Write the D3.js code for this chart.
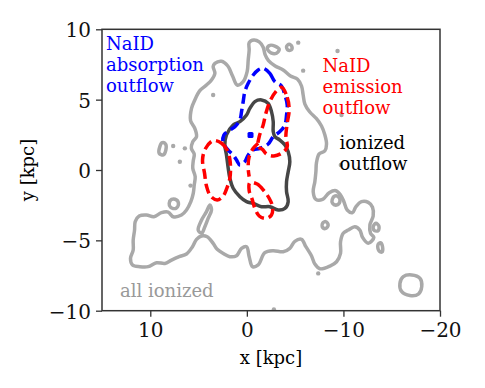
<!DOCTYPE html>
<html>
<head>
<meta charset="utf-8">
<script src="https://cdn.jsdelivr.net/npm/d3@7"></script>
<style>
  body { margin: 0; background: #fff; }
  svg { display: block; }
</style>
</head>
<body>
<script>
  var w = 485
  var h = 388
  var plotL = 102, plotR = 440, plotT = 29.3, plotB = 310.7 // plot frame in px

  // axis ticks
  var xTicks = [10, 0, -10, -20]
  var yTicks = [10, 5, 0, -5, -10]

  // contours, [x kpc, y kpc]
  var allIonized = [[3.31,7.58],[2.62,7.73],[1.97,7.39],[1.48,6.68],[1.00,6.04],[0.38,6.28],[-0.03,6.99],[-0.14,7.82],[-0.24,8.53],[-0.24,9.05],[-0.72,9.24],[-1.28,9.10],[-1.69,8.72],[-1.90,8.18],[-2.24,7.77],[-2.93,7.39],[-3.76,7.11],[-4.52,6.68],[-5.25,6.45],[-5.66,5.97],[-5.83,5.33],[-6.01,4.69],[-6.52,4.12],[-7.21,3.65],[-7.73,3.13],[-8.08,2.49],[-8.25,1.85],[-8.08,1.37],[-7.49,1.14],[-7.21,0.52],[-7.15,-0.12],[-7.04,-0.83],[-6.87,-1.54],[-7.15,-2.09],[-7.84,-2.09],[-8.53,-1.61],[-9.22,-1.47],[-9.70,-1.78],[-10.05,-2.25],[-10.39,-2.84],[-10.94,-3.03],[-11.29,-2.61],[-11.87,-2.25],[-12.57,-2.30],[-13.01,-2.65],[-13.08,-3.27],[-12.74,-3.91],[-12.81,-4.50],[-13.15,-4.79],[-12.57,-5.21],[-11.98,-4.79],[-11.70,-4.27],[-11.18,-4.03],[-10.49,-4.27],[-9.98,-4.50],[-9.70,-5.10],[-9.70,-5.93],[-9.29,-6.52],[-8.60,-6.83],[-7.56,-7.02],[-7.04,-6.68],[-6.70,-6.11],[-6.11,-5.45],[-5.66,-4.93],[-4.97,-5.07],[-4.45,-5.57],[-3.76,-5.81],[-2.73,-5.74],[-1.86,-5.88],[-1.17,-6.75],[-0.59,-6.87],[-0.24,-6.16],[0.03,-5.45],[0.55,-5.57],[1.07,-6.09],[1.76,-6.16],[2.45,-5.93],[3.07,-5.64],[3.49,-5.21],[4.11,-4.74],[4.69,-4.69],[5.21,-4.93],[5.63,-5.45],[6.25,-5.97],[7.01,-6.16],[7.80,-6.40],[8.49,-6.64],[9.35,-6.59],[10.22,-6.87],[11.08,-6.87],[11.84,-6.75],[12.05,-6.28],[11.77,-5.69],[11.77,-4.98],[11.63,-4.27],[11.56,-3.67],[11.15,-3.27],[10.39,-3.20],[9.63,-3.32],[8.84,-3.03],[8.15,-2.99],[7.63,-3.32],[6.77,-3.20],[6.25,-2.84],[5.80,-2.25],[5.55,-1.66],[5.45,-1.07],[5.35,-0.47],[5.60,0.12],[5.55,0.66],[5.45,1.14],[5.75,1.54],[5.60,2.01],[5.21,2.37],[5.39,2.96],[5.83,3.51],[5.73,4.38],[5.39,4.98],[4.87,5.64],[4.18,6.04],[3.66,6.40],[3.31,6.87],[3.49,7.35]]

  var ionizedBits = [
    [[-2.11,8.64],[-2.38,8.86],[-2.90,8.81],[-3.35,8.58],[-3.07,8.30],[-2.55,8.30]],
    [[-4.11,8.77],[-4.38,8.93],[-4.66,8.77],[-4.59,8.53],[-4.25,8.53]],
    [[9.01,1.66],[8.77,1.94],[8.42,1.85],[8.39,1.42],[8.66,1.07],[9.08,1.19]],
    [[8.04,-2.37],[7.80,-2.09],[7.28,-2.13],[7.08,-2.42],[7.35,-2.73],[7.90,-2.65]],
    [[3.83,-2.49],[4.18,-2.96],[4.69,-3.56],[5.04,-4.27],[4.69,-4.50],[4.35,-4.03],[4.01,-3.44],[3.66,-2.84]],
    [[-8.84,-2.09],[-9.11,-1.85],[-9.53,-1.94],[-9.63,-2.25],[-9.29,-2.49],[-8.87,-2.37]],
    [[-13.08,-4.03],[-13.36,-3.79],[-13.67,-3.98],[-13.60,-4.31],[-13.22,-4.31]],
    [[-13.57,-5.33],[-13.84,-5.17],[-14.05,-5.45],[-13.98,-5.83],[-13.67,-5.74]],
    [[-7.84,-3.79],[-8.18,-3.67],[-8.42,-3.91],[-8.18,-4.15],[-7.84,-4.08]],
    [[-15.85,-8.06],[-16.20,-7.58],[-17.07,-7.46],[-17.93,-7.70],[-18.11,-8.29],[-17.76,-8.82],[-16.88,-8.92],[-16.02,-8.63]]
  ]

  var ionizedDots = [[-5.32,9.05],[-5.83,7.06],[-9.39,8.46],[3.49,5.33],[-9.80,3.91],[-9.73,0.36],[7.63,1.71],[6.42,1.54],[6.94,0.59],[5.83,-1.11],[-7.39,-7.35],[-2.80,-9.91]]

  var ionizedOutflow = [[-1.52,4.98],[-2.21,4.74],[-2.55,4.15],[-2.73,3.44],[-2.73,2.73],[-2.90,2.37],[-3.42,2.13],[-3.94,1.78],[-4.28,1.30],[-4.45,0.59],[-4.28,-0.12],[-4.11,-0.83],[-4.11,-1.54],[-4.28,-2.25],[-3.94,-2.73],[-3.24,-2.84],[-2.38,-2.61],[-1.52,-2.61],[-0.66,-2.37],[0.03,-2.25],[0.72,-1.90],[1.42,-1.30],[1.76,-0.59],[1.93,0.12],[2.11,1.07],[2.28,1.78],[2.11,2.49],[1.42,3.20],[0.72,3.44],[0.03,3.91],[-0.31,4.38],[-0.83,4.86]]

  var absorption = [[-1.69,7.23],[-2.38,6.87],[-2.90,6.28],[-3.59,5.97],[-3.94,5.33],[-4.18,4.62],[-4.11,3.91],[-3.94,3.20],[-3.42,2.73],[-2.73,2.37],[-2.21,1.85],[-1.35,1.54],[-0.66,1.42],[-0.14,1.07],[0.21,0.59],[0.72,0.36],[1.07,0.71],[1.42,1.07],[1.93,1.42],[2.45,1.90],[2.38,2.49],[1.76,2.84],[1.24,3.08],[0.72,3.56],[0.55,4.15],[0.38,4.86],[0.21,5.57],[-0.14,6.16],[-0.66,6.75],[-1.17,7.11]]
  var absorptionDot = [-0.38, 2.49]

  var emission = [
    [[3.49,2.09],[2.62,1.90],[2.04,1.42],[1.76,0.76],[1.69,0.05],[1.76,-0.59],[2.04,-1.23],[2.45,-1.85],[3.07,-2.13],[3.76,-1.85],[4.18,-1.14],[4.38,-0.24],[4.59,0.71],[4.31,1.49]],
    [[-3.59,5.88],[-4.18,5.17],[-4.38,4.27],[-4.18,3.32],[-4.04,2.37],[-4.18,1.66],[-3.69,1.23],[-2.80,1.00],[-2.04,1.14],[-1.62,1.47],[-1.17,1.66],[-1.28,2.37],[-1.69,3.20],[-1.97,4.03],[-2.38,4.86],[-3.00,5.57]],
    [[-0.31,-0.90],[-1.07,-1.00],[-1.76,-1.47],[-2.31,-2.01],[-2.66,-2.61],[-2.55,-3.20],[-1.97,-3.44],[-1.28,-3.27],[-0.83,-2.73],[-0.55,-2.09],[-0.24,-1.47]]
  ]
  var emissionStem = [[-1.17,1.90],[-0.66,1.54],[-0.24,0.95],[-0.14,0.12],[-0.24,-0.47]]

  //SCALES

  var x = d3.scaleLinear().domain([15, -20]).range([plotL, plotR])
  var y = d3.scaleLinear().domain([-10, 10]).range([plotB, plotT])

  var svg = d3.select("body")
      .append("svg")
      .attr("width", w)
      .attr("height", h)

  svg.append("clipPath").attr("id", "plot")
      .append("rect")
      .attr("x", plotL).attr("y", plotT)
      .attr("width", plotR - plotL).attr("height", plotB - plotT)

  var g = svg.append("g").attr("clip-path", "url(#plot)")

  var loopLine = d3.line()
      .x(function (d) { return x(d[0]) })
      .y(function (d) { return y(d[1]) })
      .curve(d3.curveCatmullRomClosed.alpha(0.5))

  var openLine = d3.line()
      .x(function (d) { return x(d[0]) })
      .y(function (d) { return y(d[1]) })
      .curve(d3.curveCatmullRom.alpha(0.5))

  var grey = "#a9a9a9"

  //ALL IONIZED

  g.append("path").datum(allIonized)
      .attr("d", loopLine)
      .attr("fill", "none").attr("stroke", grey).attr("stroke-width", 3.5)
      .attr("stroke-linejoin", "round")

  g.selectAll(".bit")
      .data(ionizedBits)
      .enter()
      .append("path")
      .attr("class", "bit")
      .attr("d", loopLine)
      .attr("fill", "none").attr("stroke", grey).attr("stroke-width", 3.5)

  g.selectAll(".dot")
      .data(ionizedDots)
      .enter()
      .append("circle")
      .attr("class", "dot")
      .attr("cx", function (d) { return x(d[0]) })
      .attr("cy", function (d) { return y(d[1]) })
      .attr("r", 2.2)
      .attr("fill", grey)

  //IONIZED OUTFLOW

  g.append("path").datum(ionizedOutflow)
      .attr("d", loopLine)
      .attr("fill", "none").attr("stroke", "#464646").attr("stroke-width", 3.5)

  //NaID ABSORPTION

  g.append("path").datum(absorption)
      .attr("d", loopLine)
      .attr("fill", "none").attr("stroke", "blue").attr("stroke-width", 3.5)
      .attr("stroke-dasharray", "10,5")

  g.append("rect")
      .attr("x", x(absorptionDot[0]) - 3).attr("y", y(absorptionDot[1]) - 3)
      .attr("width", 6).attr("height", 6)
      .attr("rx", 1.5)
      .attr("fill", "blue")

  //NaID EMISSION

  g.selectAll(".em")
      .data(emission)
      .enter()
      .append("path")
      .attr("class", "em")
      .attr("d", loopLine)
      .attr("fill", "none").attr("stroke", "red").attr("stroke-width", 3.5)
      .attr("stroke-dasharray", "10,5")

  g.append("path").datum(emissionStem)
      .attr("d", openLine)
      .attr("fill", "none").attr("stroke", "red").attr("stroke-width", 3.5)
      .attr("stroke-dasharray", "10,5")

  //FRAME AND AXES

  svg.append("rect")
      .attr("x", plotL).attr("y", plotT)
      .attr("width", plotR - plotL).attr("height", plotB - plotT)
      .attr("fill", "none").attr("stroke", "#333").attr("stroke-width", 1.5)

  var fmt = function (d) { return d < 0 ? "\u2212" + Math.abs(d) : d }

  var xAxis = svg.append("g")
      .attr("transform", "translate(0," + plotB + ")")
      .call(d3.axisBottom(x).tickValues(xTicks).tickFormat(fmt).tickSize(6).tickPadding(6))
  var yAxis = svg.append("g")
      .attr("transform", "translate(" + plotL + ",0)")
      .call(d3.axisLeft(y).tickValues(yTicks).tickFormat(fmt).tickSize(6).tickPadding(5))

  svg.selectAll(".domain").remove()
  svg.selectAll(".tick line").attr("stroke", "#333").attr("stroke-width", 1.3)
  svg.selectAll(".tick text")
      .attr("font-family", "DejaVu Serif")
      .attr("font-size", "20px")
      .attr("fill", "#111")
  xAxis.selectAll(".tick text").attr("dy", "0.72em")
  yAxis.selectAll(".tick text").attr("dy", "0.38em")

  svg.append("text")
      .attr("x", (plotL + plotR) / 2).attr("y", 363.5)
      .attr("text-anchor", "middle")
      .attr("font-family", "DejaVu Serif").attr("font-size", "18px")
      .text("x [kpc]")

  svg.append("text")
      .attr("transform", "translate(34,170) rotate(-90)")
      .attr("text-anchor", "middle")
      .attr("font-family", "DejaVu Serif").attr("font-size", "18px")
      .text("y [kpc]")

  //LABELS

  var labels = [
      { lines: ["NaID", "absorption", "outflow"], x: 106, y: 49.5, color: "blue" },
      { lines: ["NaID", "emission", "outflow"], x: 322.5, y: 71.5, color: "red" },
      { lines: ["ionized", "outflow"], x: 339.5, y: 149, color: "black" },
      { lines: ["all ionized"], x: 120, y: 296.5, color: "#999" }
  ]

  labels.forEach(function (l) {
      var t = svg.append("text")
          .attr("font-family", "DejaVu Serif")
          .attr("font-size", "18px")
          .attr("fill", l.color)
      l.lines.forEach(function (s, i) {
          t.append("tspan")
              .attr("x", l.x)
              .attr("y", l.y + i * 21)
              .text(s)
      })
  })
</script>
</body>
</html>
